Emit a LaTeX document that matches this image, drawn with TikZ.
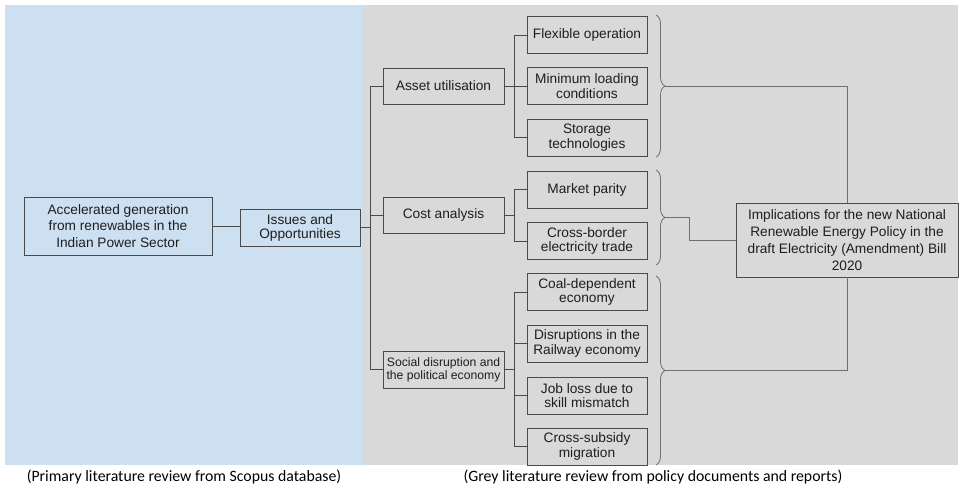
\documentclass[tikz,border=0pt]{standalone}
\usepackage{fontspec}
\setmainfont{Liberation Sans}
\newfontfamily\capfont{Carlito}
\usetikzlibrary{decorations.pathreplacing}
\definecolor{bgblue}{HTML}{CCE0F2}
\definecolor{bggrey}{HTML}{D9D9D9}
\definecolor{linec}{HTML}{4A4A4A}
\definecolor{bracec}{HTML}{6E6E6E}
\definecolor{txt}{HTML}{1E1E1E}
\tikzset{
  boxbase/.style={draw=linec, line width=0.9pt, inner sep=0pt, align=center, text=txt},
  mainbox/.style={boxbase, minimum width=121pt, minimum height=36pt, font=\fontsize{13.7}{14.5}\selectfont},
  leafbox/.style={boxbase, minimum width=120pt, minimum height=37pt, font=\fontsize{13.7}{14.3}\selectfont},
  conn/.style={draw=linec, line width=0.8pt},
  bracestyle/.style={draw=bracec, line width=0.8pt, decorate, decoration={brace, amplitude=9pt}},
  caption/.style={font=\capfont\fontsize{15.8}{18}\selectfont, text=black, inner sep=0pt}
}
\begin{document}
\begin{tikzpicture}[x=1pt, y=-1pt]
\useasboundingbox (0,0) rectangle (961,488);
\fill[bgblue] (5,5) rectangle (363,465);
\fill[bggrey] (363,5) rectangle (958,465);

\node[boxbase, minimum width=188pt, minimum height=58pt, font=\fontsize{13.7}{16.7}\selectfont] (acc) at (118,226) {Accelerated generation\\from renewables in the\\Indian Power Sector};
\node[boxbase, minimum width=120pt, minimum height=37pt, font=\fontsize{13.7}{14}\selectfont] (issues) at (300,227.5) {Issues and\\Opportunities};

\node[mainbox] (asset) at (443.5,86) {Asset utilisation};
\node[mainbox] (cost) at (443.5,215) {Cost analysis};
\node[mainbox, minimum height=37pt, font=\fontsize{12.2}{12.7}\selectfont] (social) at (443.5,369.5) {Social disruption and\\the political economy};

\node[leafbox] (flex) at (587,35) {Flexible operation};
\node[leafbox] (minload) at (587,86) {Minimum loading\\conditions};
\node[leafbox] (storage) at (587,137.5) {Storage\\technologies};
\node[leafbox] (market) at (587,189.5) {Market parity};
\node[leafbox] (border) at (587,241) {Cross-border\\electricity trade};
\node[leafbox] (coal) at (587,292) {Coal-dependent\\economy};
\node[leafbox] (rail) at (587,343.5) {Disruptions in the\\Railway economy};
\node[leafbox] (job) at (587,395.5) {Job loss due to\\skill mismatch};
\node[leafbox] (subsidy) at (587,446.5) {Cross-subsidy\\migration};

\node[boxbase, minimum width=222pt, minimum height=74pt, font=\fontsize{13.7}{17}\selectfont] (impl) at (847,240) {Implications for the new National\\Renewable Energy Policy in the\\draft Electricity (Amendment) Bill\\2020};

% connectors
\draw[conn] (acc.east) -- (acc.east -| issues.west);
\draw[conn] (issues.east) -- ++(11,0);
\draw[conn] (asset.west) -- ++(-12,0) |- (social.west);
\draw[conn] (cost.west) -- ++(-12,0);

\draw[conn] (flex.west) -- ++(-12,0) |- (storage.west);
\draw[conn] (asset.east) -- (minload.west);

\draw[conn] (market.west) -- ++(-12,0) |- (border.west);
\draw[conn] (cost.east) -- ++(11,0);

\draw[conn] (coal.west) -- ++(-12,0) |- (subsidy.west);
\draw[conn] (rail.west) -- ++(-12,0);
\draw[conn] (job.west) -- ++(-12,0);
\draw[conn] (social.east) -- ++(11,0);

% braces
\draw[bracestyle] (656,15) -- (656,157);
\draw[bracestyle] (656,170) -- (656,265);
\draw[bracestyle] (656,276) -- (656,465);
\coordinate (b1) at (665,86);
\coordinate (b2) at (665,217.5);
\coordinate (b3) at (665,370.5);
\coordinate (k2) at (689,217.5);
\draw[conn, draw=bracec] (b1) -| (impl.north);
\draw[conn, draw=bracec] (b3) -| (impl.south);
\draw[conn, draw=bracec] (b2) -- (k2) |- (impl.west);

% captions
\node[caption] (cap1) at (184,477) {(Primary literature review from Scopus database)};
\node[caption] (cap2) at (653,477) {(Grey literature review from policy documents and reports)};
\end{tikzpicture}
\end{document}
